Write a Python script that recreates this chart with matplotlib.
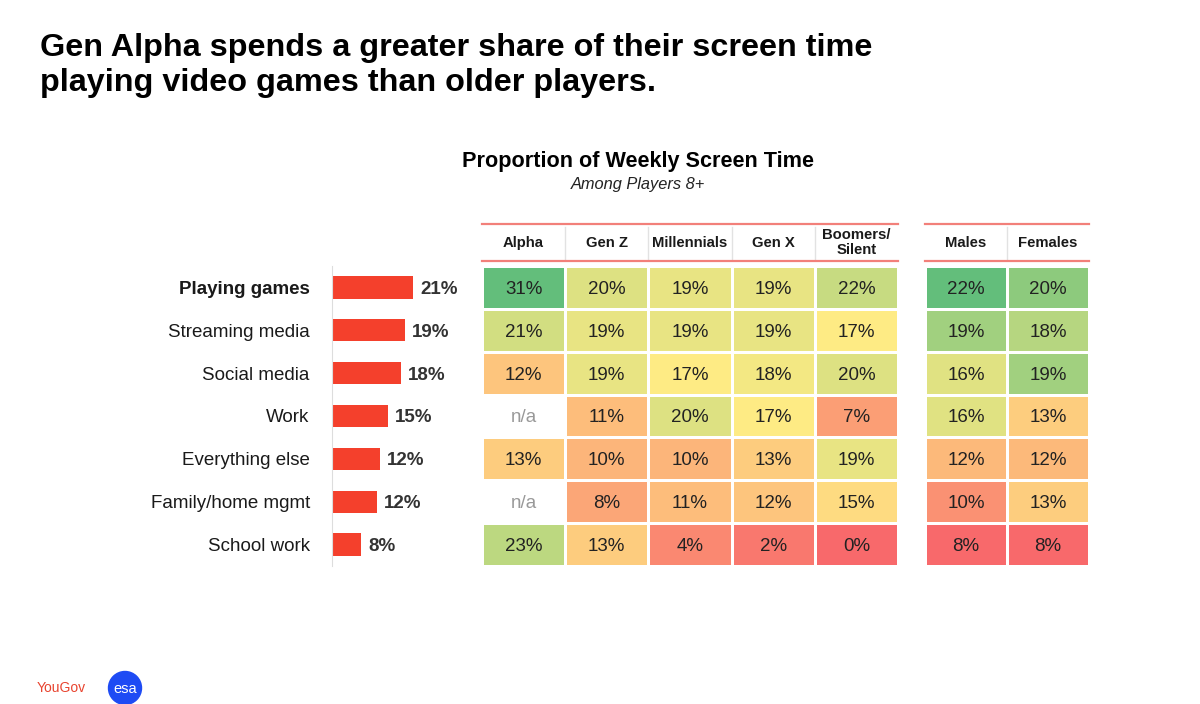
import numpy as np
import matplotlib
matplotlib.use("Agg")
import matplotlib.pyplot as plt
from matplotlib.colors import LinearSegmentedColormap, TwoSlopeNorm
from matplotlib.patches import Ellipse

plt.rcParams['font.family'] = ['Liberation Sans', 'DejaVu Sans']

# data
activities = ["Playing games", "Streaming media", "Social media", "Work",
              "Everything else", "Family/home mgmt", "School work"]
overall = [21.0, 18.9, 17.9, 14.6, 12.4, 11.7, 7.6]
overall_labels = ["21%", "19%", "18%", "15%", "12%", "12%", "8%"]

gen_cols = ["Alpha", "Gen Z", "Millennials", "Gen X", "Boomers/\nSilent"]
gen_vals = [
    [31, 20, 19, 19, 22],
    [21, 19, 19, 19, 17],
    [12, 19, 17, 18, 20],
    [np.nan, 11, 20, 17, 7],
    [13, 10, 10, 13, 19],
    [np.nan, 8, 11, 12, 15],
    [23, 13, 4, 2, 0],
]
sex_cols = ["Males", "Females"]
sex_vals = [
    [22, 20],
    [19, 18],
    [16, 19],
    [16, 13],
    [12, 12],
    [10, 13],
    [8, 8],
]

W, H = 1200, 704
fig = plt.figure(figsize=(W / 100, H / 100), dpi=100)
fig.patch.set_facecolor('white')


def box(l, t, r, b):
    return [l / W, 1 - b / H, (r - l) / W, (b - t) / H]


# titles
fig.text(40 / W, 1 - 33 / H,
         "Gen Alpha spends a greater share of their screen time\nplaying video games than older players.",
         fontsize=23.3, fontweight='bold', va='top', ha='left', linespacing=1.22, color='black')
fig.text(638 / W, 1 - 162 / H, "Proportion of Weekly Screen Time",
         fontsize=15.6, fontweight='bold', ha='center', va='center')
fig.text(638 / W, 1 - 185 / H, "Among Players 8+",
         fontsize=11.8, style='italic', ha='center', va='center', color='#222222')

# overall bars
axb = fig.add_axes(box(332, 266, 470, 566))
y = np.arange(len(activities))
axb.barh(y, overall, height=0.52, color='#F4402C')
axb.set_ylim(len(activities) - 0.5, -0.5)
axb.set_xlim(0, 138 / 3.86)
axb.set_yticks(y, activities)
axb.tick_params(axis='y', length=0, pad=16, labelsize=13.5, labelcolor='#1a1a1a')
axb.get_yticklabels()[0].set_fontweight('bold')
axb.set_xticks([])
for s in ['top', 'right', 'bottom']:
    axb.spines[s].set_visible(False)
axb.spines['left'].set_color('#dddddd')
for i, (v, lab) in enumerate(zip(overall, overall_labels)):
    axb.text(v + 1.8, i, lab, va='center_baseline', ha='left', fontsize=13.5,
             fontweight='bold', color='#333333')

cmap = LinearSegmentedColormap.from_list('xl', ['#F8696B', '#FFEB84', '#63BE7B'])


def heat(rect, cols, vals):
    ax = fig.add_axes(rect)
    arr = np.array(vals, dtype=float)
    m = np.ma.masked_invalid(arr)
    good = arr[~np.isnan(arr)]
    norm = TwoSlopeNorm(vcenter=np.median(good), vmin=good.min(), vmax=good.max())
    nr, nc = arr.shape
    ax.pcolormesh(np.arange(nc + 1), np.arange(nr + 1), m, cmap=cmap, norm=norm,
                  edgecolors='white', linewidth=2)
    ax.set_xlim(0, nc)
    ax.set_ylim(nr, 0)
    ax.axis('off')
    for r in range(nr):
        for c in range(nc):
            v = arr[r, c]
            if np.isnan(v):
                ax.text(c + 0.5, r + 0.5, "n/a", ha='center', va='center_baseline',
                        fontsize=13.5, color='#999999')
            else:
                ax.text(c + 0.5, r + 0.5, f"{v:.0f}%", ha='center', va='center_baseline',
                        fontsize=13.5, color='#222222')
    # header
    for c, name in enumerate(cols):
        ax.text(c + 0.5, -0.54, name, ha='center', va='center', fontsize=10.7,
                fontweight='bold', color='#1a1a1a', linespacing=1.1)
        if c > 0:
            ax.plot([c, c], [-0.92, -0.16], color='#e2e2e2', lw=1, clip_on=False)
    for yy in [-0.98, -0.12]:
        ax.plot([0, nc], [yy, yy], color='#F2807A', lw=1.6, clip_on=False)
    return ax


heat(box(482, 266, 898, 566), gen_cols, gen_vals)
heat(box(925, 266, 1089, 566), sex_cols, sex_vals)

# logos
fig.text(37 / W, 1 - 688 / H, "YouGov", fontsize=10,
         color='#E8432E', ha='left', va='center')
fig.add_artist(Ellipse((125 / W, 1 - 688 / H), 33 / W, 33 / H,
                       transform=fig.transFigure, color='#1E4BF4'))
fig.text(125 / W, 1 - 689 / H, "esa", fontsize=10.5, color='white',
         ha='center', va='center')

fig.savefig("out.png", dpi=100)
